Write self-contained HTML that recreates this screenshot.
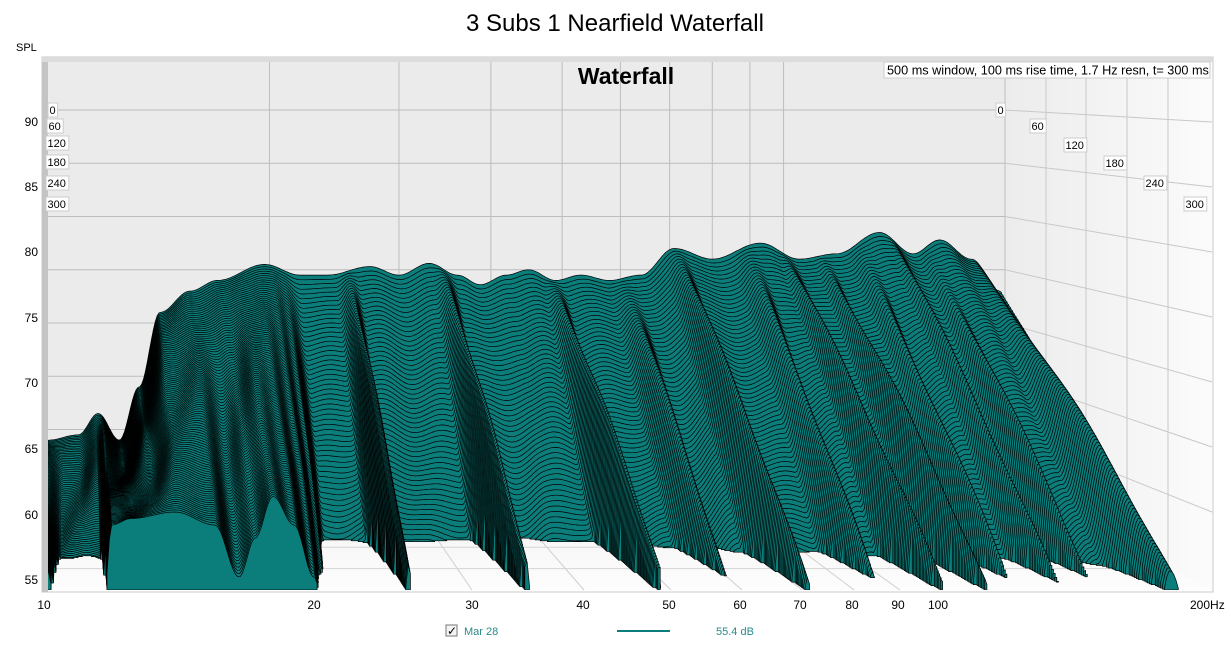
<!DOCTYPE html>
<html><head><meta charset="utf-8">
<style>
html,body{margin:0;padding:0;background:#fff;width:1231px;height:645px;overflow:hidden;font-family:"Liberation Sans",Arial,sans-serif;}
svg{display:block}
</style></head>
<body>
<svg id="s" width="1231" height="645" viewBox="0 0 1231 645" xmlns="http://www.w3.org/2000/svg" font-family="Liberation Sans, Arial, sans-serif">
<defs>
<linearGradient id="rw" x1="0" x2="1" y1="0" y2="0"><stop offset="0" stop-color="#ececec"/><stop offset="1" stop-color="#fbfbfb"/></linearGradient>
<linearGradient id="fl" x1="0" x2="0" y1="0" y2="1"><stop offset="0" stop-color="#f0f0f0"/><stop offset="1" stop-color="#fdfdfd"/></linearGradient>
<clipPath id="pc"><rect x="48" y="62" width="1164" height="528"/></clipPath>
</defs>
<text x="615" y="31" font-size="24" text-anchor="middle" fill="#000">3 Subs 1 Nearfield Waterfall</text>
<text x="16" y="51" font-size="11" fill="#000">SPL</text>
<rect x="42" y="57" width="1171" height="535" fill="#fff" stroke="#c8c8c8" stroke-width="1"/>
<rect x="42" y="57" width="6" height="535" fill="#c4c4c4"/>
<rect x="42" y="57" width="1171" height="5" fill="#dcdcdc"/>
<g id="bg"></g>
<g id="wf" clip-path="url(#pc)"></g>
<g id="lab"></g>
<rect x="884" y="62" width="326" height="16" fill="#fff" stroke="#ccc"/>
<text x="887" y="74.5" font-size="12.7" fill="#000">500 ms window, 100 ms rise time,  1.7 Hz resn, t= 300 ms</text>
<text x="626" y="84" font-size="23" font-weight="bold" text-anchor="middle" fill="#000">Waterfall</text>
<rect x="446" y="625" width="11" height="11" fill="#f4f4f4" stroke="#777"/>
<text x="447" y="635" font-size="12" fill="#000">✓</text>
<text x="464" y="635" font-size="11" fill="#2a8a8a">Mar 28</text>
<line x1="617" y1="631" x2="670" y2="631" stroke="#0b7d7a" stroke-width="2"/>
<text x="716" y="635" font-size="11" fill="#2a8a8a">55.4 dB</text>
</svg>
<script>
var NS="http://www.w3.org/2000/svg";
function el(p,n,a,txt){var e=document.createElementNS(NS,n);for(var k in a)e.setAttribute(k,a[k]);if(txt!==undefined)e.textContent=txt;p.appendChild(e);return e;}
var L20=Math.log10(20);
function U(f){return Math.log10(f/10)/L20;}
function X(f,t){var u=U(f);var xb=48+957*u,xf=44+1167*u;return xb+(xf-xb)*t;}
function Y(d,t){var yb=110+(90-d)*10.65,yf=122+(90-d)*13;return yb+(yf-yb)*t;}
var bg=document.getElementById('bg'),wf=document.getElementById('wf'),lab=document.getElementById('lab');
el(bg,'rect',{x:48,y:62,width:957,height:421,fill:'#ebebeb'});
el(bg,'polygon',{points:'1005,62 1212,62 1212,590 1005,483',fill:'url(#rw)'});
el(bg,'polygon',{points:'48,483 1005,483 1212,590 48,590',fill:'url(#fl)'});
var g='#bdbdbd';
[20,30,40,50,60,70,80,90,100].forEach(function(f){var xb=X(f,0);el(bg,'line',{x1:xb,y1:62,x2:xb,y2:483,stroke:g,'stroke-width':1});
 el(bg,'line',{x1:xb,y1:483,x2:X(f,1),y2:590,stroke:'#cfcfcf','stroke-width':1});});
[90,85,80,75,70,65,60].forEach(function(d){var yb=Y(d,0);el(bg,'line',{x1:48,y1:yb,x2:1005,y2:yb,stroke:g});
 el(bg,'line',{x1:1005,y1:yb,x2:1212,y2:Y(d,1.0),stroke:'#c8c8c8'});});
el(bg,'line',{x1:1005,y1:62,x2:1005,y2:483,stroke:g});
[1046,1086,1127,1168].forEach(function(x){var yb=483+(x-1005)/207*107;el(bg,'line',{x1:x,y1:62,x2:x,y2:yb,stroke:'#c8c8c8'});});
[0.2,0.4,0.6,0.8].forEach(function(t){var y=483+107*t;el(bg,'line',{x1:48,y1:y,x2:1005+207*t,y2:y,stroke:'#d4d4d4'});});
var SP=[[10,59],[11,59.5],[11.7,61.5],[12.5,59],[13.3,64],[14.2,71],[15.6,73],[17,74],[19.7,75.5],[22,74.5],[24,74.5],[27.4,75.3],[30,74.5],[33,75.6],[36,74.5],[38.7,73.6],[42,74.5],[45,75],[49,74],[53,74.5],[58,74],[64,74.5],[71,77],[80,76],[93,77.5],[105,76],[118,76.5],[135,78.5],[150,76.5],[163,77.8],[180,76],[197,73],[200,72]];
var TP=[[10,56],[10.5,51],[11.6,51],[11.9,59],[12.5,59.5],[14,60],[15.5,59],[16.5,55],[17.2,58],[18,61.2],[19,59],[20,55],[20.8,50],[22,32],[24.5,34],[25.5,56],[26.5,34],[33,32],[34.5,56.3],[36,32],[46.5,34],[48.5,56],[50.5,36],[57,38],[60,51],[63,38],[68,40],[71,55],[74,40],[84,40],[88,51],[92,40],[97,42],[100,55],[104,42],[109,43],[112,55],[116,42],[121,42],[125,51],[130,42],[136,43],[140,52],[145,42],[151,42],[155,51],[160,44],[170,46],[180,55.5],[192,50],[200,45]];
function I(A,f){var lf=Math.log(f);for(var i=0;i<A.length-1;i++){var a=A[i],b=A[i+1];if(f<=b[0]){var r=(lf-Math.log(a[0]))/(Math.log(b[0])-Math.log(a[0]));r=(1-Math.cos(Math.PI*r))/2;return a[1]+(b[1]-a[1])*r;}}return A[A.length-1][1];}
function Lv(f,t){var w=Math.sin(Math.log(f)*38+t*9)*0.8*t*(1-t)*2;return I(SP,f)*(1-t)+I(TP,f)*t+w;}
var NF=500,fs=[];for(var i=0;i<=NF;i++)fs.push(10*Math.pow(20,i/NF));
var N=110,FL=54;
for(var k=0;k<=N;k++){var t=k/N;var seg=[];
 var yfl=Y(FL,t);
 for(var i=0;i<=NF;i++){var f=fs[i];var v=Lv(f,t);
  if(v>FL){seg.push([X(f,t),Y(v,t)]);}
  if((v<=FL||i==NF)&&seg.length>1){var p='M'+seg[0][0].toFixed(1)+','+yfl.toFixed(1);seg.forEach(function(q){p+='L'+q[0].toFixed(1)+','+q[1].toFixed(1);});p+='L'+seg[seg.length-1][0].toFixed(1)+','+yfl.toFixed(1)+'Z';
   el(wf,'path',{d:p,fill:'#0b7d7a',stroke:'#000','stroke-width':0.7,'stroke-linejoin':'round'});seg=[];}
  else if(v<=FL)seg=[];
 }
}
[[90,122],[85,187],[80,252],[75,318],[70,383],[65,449],[60,515],[55,580]].forEach(function(a){el(lab,'text',{x:38,y:a[1]+4,'font-size':12,'text-anchor':'end'},String(a[0]));});
[[10,44],[20,314],[30,472],[40,583],[50,669],[60,740],[70,800],[80,852],[90,898],[100,938]].forEach(function(a){el(lab,'text',{x:a[1],y:609,'font-size':12,'text-anchor':'middle'},String(a[0]));});
el(lab,'text',{x:1190,y:609,'font-size':12},'200Hz');
function box(x,y,s){var w=s.length*6.6+3;el(lab,'rect',{x:x,y:y-7,width:w,height:14,fill:'#fff',stroke:'#ccc'});el(lab,'text',{x:x+1.5,y:y+4,'font-size':11},s);}
[['0',48,110],['60',47,126],['120',46,143],['180',46,162],['240',46,183],['300',46,204]].forEach(function(a){box(a[1],a[2],a[0]);});
[['0',996,110],['60',1030,126],['120',1064,145],['180',1104,163],['240',1144,183],['300',1184,204]].forEach(function(a){box(a[1],a[2],a[0]);});
</script>
</body></html>
